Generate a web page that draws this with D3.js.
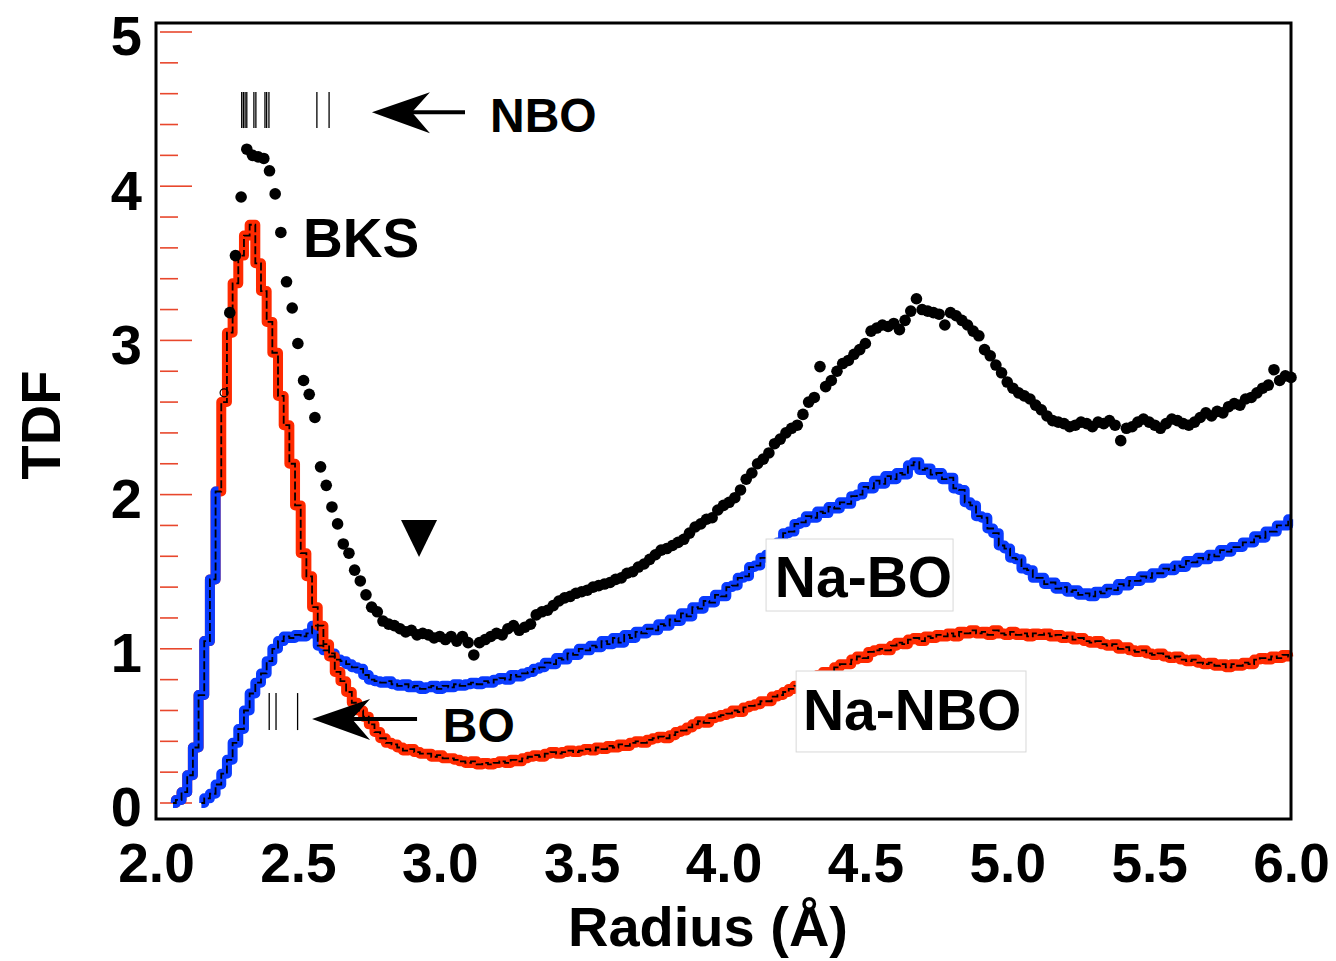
<!DOCTYPE html>
<html>
<head>
<meta charset="utf-8">
<script src="https://cdn.jsdelivr.net/npm/d3@7"></script>
<style>
  body { margin: 0; background: #fff; }
  text { font-family: "Liberation Sans", Arial, Helvetica, sans-serif; font-weight: bold; }
</style>
</head>
<body>
<div id="chart"></div>
<script>
// TDF vs radius (Angstrom), every series sampled on a 0.02 grid
var step = 0.02;

// Na-NBO, starts at 2.06
var naNboStart = 2.06;
var naNbo = [
  0.00, 0.02, 0.07, 0.18, 0.36, 0.70, 1.05, 1.45, 2.02, 2.60,
  3.05, 3.37, 3.55, 3.68, 3.75, 3.50, 3.32, 3.12, 2.92, 2.64,
  2.45, 2.20, 1.93, 1.62, 1.47, 1.27, 1.15, 1.03, 0.95, 0.85,
  0.79, 0.72, 0.65, 0.60, 0.56, 0.51, 0.46, 0.42, 0.39, 0.38,
  0.36, 0.34, 0.35, 0.33, 0.32, 0.32, 0.30, 0.31, 0.29, 0.29,
  0.28, 0.27, 0.26, 0.27, 0.25, 0.26, 0.25, 0.26, 0.27, 0.26,
  0.28, 0.27, 0.29, 0.30, 0.31, 0.30, 0.32, 0.33, 0.32, 0.33,
  0.34, 0.33, 0.34, 0.35, 0.34, 0.36, 0.35, 0.37, 0.36, 0.38,
  0.37, 0.39, 0.40, 0.39, 0.41, 0.42, 0.43, 0.42, 0.44, 0.46,
  0.47, 0.49, 0.51, 0.53, 0.52, 0.55, 0.56, 0.57, 0.58, 0.60,
  0.59, 0.62, 0.63, 0.64, 0.66, 0.66, 0.69, 0.70, 0.72, 0.74,
  0.76, 0.77, 0.79, 0.81, 0.83, 0.85, 0.85, 0.88, 0.90, 0.90,
  0.93, 0.95, 0.94, 0.98, 0.99, 1.00, 0.99, 1.02, 1.04, 1.03,
  1.06, 1.07, 1.05, 1.08, 1.07, 1.09, 1.08, 1.10, 1.08, 1.11,
  1.10, 1.12, 1.10, 1.11, 1.09, 1.12, 1.10, 1.09, 1.11, 1.09,
  1.10, 1.08, 1.10, 1.09, 1.10, 1.08, 1.09, 1.07, 1.08, 1.06,
  1.07, 1.05, 1.04, 1.05, 1.03, 1.02, 1.03, 1.00, 1.01, 0.99,
  0.98, 0.99, 0.97, 0.96, 0.97, 0.95, 0.94, 0.95, 0.93, 0.92,
  0.93, 0.91, 0.90, 0.91, 0.89, 0.90, 0.88, 0.90, 0.89, 0.91,
  0.90, 0.93, 0.94, 0.93, 0.95, 0.94, 0.96, 0.95
];

// Na-BO, starts at 2.16
var naBoStart = 2.16;
var naBo = [
  0.00, 0.03, 0.06, 0.12, 0.19, 0.28, 0.39, 0.48, 0.60, 0.71,
  0.78, 0.84, 0.92, 1.00, 1.05, 1.08, 1.07, 1.09, 1.08, 1.10,
  1.15, 1.02, 0.99, 0.97, 0.93, 0.92, 0.90, 0.88, 0.87, 0.83,
  0.80, 0.79, 0.78, 0.79, 0.77, 0.76, 0.77, 0.75, 0.76, 0.74,
  0.75, 0.76, 0.74, 0.76, 0.75, 0.77, 0.76, 0.77, 0.78, 0.77,
  0.79, 0.78, 0.80, 0.81, 0.80, 0.83, 0.82, 0.84, 0.85, 0.87,
  0.88, 0.91, 0.90, 0.94, 0.93, 0.97, 0.96, 1.00, 0.99, 1.02,
  1.01, 1.05, 1.03, 1.07, 1.04, 1.09, 1.07, 1.11, 1.10, 1.13,
  1.12, 1.16, 1.15, 1.19, 1.18, 1.23, 1.21, 1.27, 1.26, 1.31,
  1.30, 1.35, 1.34, 1.40, 1.41, 1.46, 1.47, 1.53, 1.54, 1.59,
  1.61, 1.67, 1.69, 1.75, 1.76, 1.81, 1.82, 1.86, 1.85, 1.89,
  1.88, 1.92, 1.91, 1.95, 1.94, 1.99, 2.00, 2.05, 2.04, 2.09,
  2.07, 2.12, 2.10, 2.14, 2.13, 2.19, 2.21, 2.16, 2.17, 2.13,
  2.14, 2.10, 2.11, 2.04, 2.03, 1.95, 1.93, 1.86, 1.85, 1.78,
  1.75, 1.67, 1.65, 1.59, 1.58, 1.52, 1.51, 1.46, 1.46, 1.42,
  1.43, 1.39, 1.40, 1.37, 1.38, 1.35, 1.36, 1.34, 1.37, 1.36,
  1.39, 1.38, 1.42, 1.41, 1.44, 1.44, 1.47, 1.46, 1.49, 1.49,
  1.52, 1.51, 1.54, 1.53, 1.57, 1.56, 1.59, 1.58, 1.61, 1.60,
  1.64, 1.63, 1.66, 1.66, 1.69, 1.69, 1.73, 1.72, 1.76, 1.76,
  1.80, 1.80, 1.84
];

// BKS (dots), starts at 2.24
var bksStart = 2.24;
var bks = [
  2.66, 3.18, 3.55, 3.93, 4.24, 4.20, 4.19, 4.18, 4.10, 3.95,
  3.70, 3.38, 3.21, 2.98, 2.74, 2.65, 2.50, 2.18, 2.06, 1.92,
  1.81, 1.68, 1.62, 1.51, 1.44, 1.35, 1.27, 1.24, 1.18, 1.16,
  1.15, 1.13, 1.11, 1.12, 1.09, 1.10, 1.09, 1.07, 1.08, 1.06,
  1.08, 1.05, 1.08, 1.04, 0.96, 1.04, 1.06, 1.08, 1.10, 1.09,
  1.13, 1.15, 1.12, 1.14, 1.16, 1.22, 1.24, 1.25, 1.28, 1.31,
  1.33, 1.34, 1.36, 1.37, 1.38, 1.40, 1.41, 1.42, 1.43, 1.45,
  1.46, 1.49, 1.50, 1.53, 1.55, 1.58, 1.61, 1.64, 1.65, 1.67,
  1.69, 1.71, 1.75, 1.79, 1.81, 1.84, 1.85, 1.90, 1.93, 1.95,
  1.98, 2.03, 2.10, 2.14, 2.20, 2.23, 2.27, 2.33, 2.36, 2.40,
  2.43, 2.45, 2.52, 2.60, 2.63, 2.83, 2.70, 2.74, 2.80, 2.85,
  2.87, 2.91, 2.94, 2.98, 3.06, 3.08, 3.10, 3.09, 3.11, 3.07,
  3.13, 3.19, 3.27, 3.20, 3.19, 3.18, 3.17, 3.10, 3.18, 3.16,
  3.13, 3.10, 3.06, 3.03, 2.94, 2.90, 2.84, 2.79, 2.73, 2.69,
  2.66, 2.64, 2.62, 2.58, 2.55, 2.51, 2.48, 2.47, 2.46, 2.44,
  2.45, 2.47, 2.46, 2.44, 2.47, 2.46, 2.48, 2.45, 2.35, 2.43,
  2.44, 2.47, 2.49, 2.47, 2.45, 2.43, 2.46, 2.49, 2.48, 2.46,
  2.45, 2.47, 2.50, 2.53, 2.51, 2.54, 2.53, 2.57, 2.59, 2.58,
  2.62, 2.63, 2.66, 2.69, 2.71, 2.81, 2.74, 2.77, 2.76
];

// bond-length markers
var nboMarks = [2.302, 2.308, 2.314, 2.320, 2.345, 2.352, 2.384, 2.390, 2.398, 2.567, 2.610];
var boMarks = [2.399, 2.423, 2.499];

var xTicks = [2.0, 2.5, 3.0, 3.5, 4.0, 4.5, 5.0, 5.5, 6.0];
var yTicks = [0, 1, 2, 3, 4, 5];
var yMinor = d3.range(0, 26).map(function(i) { return i / 5; });

var W = 1336, H = 961;
var red = "#ff2a00", blue = "#0a3cff", tickRed = "#e8472c";

var x = d3.scaleLinear().domain([2, 6]).range([156, 1291]);
var y = d3.scaleLinear().domain([0, 5]).range([803, 32]);

function toPoints(start, vals) {
  return vals.map(function(v, i) { return { r: start + i * step, g: v }; });
}
var nboPts = toPoints(naNboStart, naNbo);
var boPts = toPoints(naBoStart, naBo);
var bksPts = toPoints(bksStart, bks);

var svg = d3.select("#chart").append("svg")
  .attr("width", W).attr("height", H);

svg.append("rect").attr("width", W).attr("height", H).attr("fill", "#fff");

// red minor / major ticks inside left edge
svg.append("g").selectAll("line")
  .data(yMinor)
  .enter().append("line")
  .attr("x1", 160)
  .attr("x2", function(d) { return Math.abs(d - Math.round(d)) < 1e-6 ? 192 : 178; })
  .attr("y1", function(d) { return y(d); })
  .attr("y2", function(d) { return y(d); })
  .attr("stroke", tickRed)
  .attr("stroke-width", 1.6);

var line = d3.line()
  .x(function(d) { return x(d.r); })
  .y(function(d) { return y(d.g); })
  .curve(d3.curveStep);

function drawCurve(pts, color) {
  svg.append("path").attr("d", line(pts))
    .attr("fill", "none").attr("stroke", color)
    .attr("stroke-width", 10).attr("stroke-linejoin", "round");
}
function drawDash(pts) {
  svg.append("path").attr("d", line(pts))
    .attr("fill", "none").attr("stroke", "#000")
    .attr("stroke-width", 1.8).attr("stroke-dasharray", "8,3");
}

drawCurve(boPts, blue);
drawCurve(nboPts, red);
drawCurve(nboPts.filter(function(d) { return d.r <= 2.22; }), blue);
drawDash(boPts);
drawDash(nboPts);

// BKS dots
svg.append("g").selectAll("circle")
  .data(bksPts)
  .enter().append("circle")
  .attr("cx", function(d) { return x(d.r); })
  .attr("cy", function(d) { return y(d.g); })
  .attr("r", function(d, i) { return i === 0 ? 4 : 5.8; })
  .attr("fill", function(d, i) { return i === 0 ? "none" : "#000"; })
  .attr("stroke", "#000")
  .attr("stroke-width", function(d, i) { return i === 0 ? 1.2 : 0; });

// frame
svg.append("rect")
  .attr("x", 156).attr("y", 23)
  .attr("width", 1291 - 156).attr("height", 819 - 23)
  .attr("fill", "none").attr("stroke", "#000").attr("stroke-width", 3);

// axes (labels only)
var yAxis = svg.append("g").attr("transform", "translate(156,0)")
  .call(d3.axisLeft(y).tickValues(yTicks).tickSize(0).tickPadding(14).tickFormat(d3.format("d")));
yAxis.select(".domain").remove();
yAxis.selectAll("text").attr("font-size", 56).attr("dy", "0.41em")
  .attr("fill", "#000").style("font-family", "'Liberation Sans', Arial, sans-serif").style("font-weight", "bold");

var xAxis = svg.append("g").attr("transform", "translate(0,819)")
  .call(d3.axisBottom(x).tickValues(xTicks).tickSize(0).tickPadding(24).tickFormat(d3.format(".1f")));
xAxis.select(".domain").remove();
xAxis.selectAll("text").attr("font-size", 55)
  .attr("fill", "#000").style("font-family", "'Liberation Sans', Arial, sans-serif").style("font-weight", "bold");

svg.append("text")
  .attr("x", 708).attr("y", 946)
  .attr("text-anchor", "middle").attr("font-size", 56)
  .text("Radius (Å)");

svg.append("text")
  .attr("transform", "translate(60,425) rotate(-90)")
  .attr("text-anchor", "middle").attr("font-size", 56)
  .text("TDF");

// marker bars
function marks(vals, g0, g1) {
  svg.append("g").selectAll("line")
    .data(vals)
    .enter().append("line")
    .attr("x1", function(d) { return x(d); })
    .attr("x2", function(d) { return x(d); })
    .attr("y1", y(g0)).attr("y2", y(g1))
    .attr("stroke", "#000").attr("stroke-width", 1.3);
}
marks(nboMarks, 4.611, 4.377);
marks(boMarks, 0.713, 0.473);

// arrows
function arrow(r0, r1, g) {
  var tx = x(r0), ty = y(g), ex = x(r1);
  svg.append("line")
    .attr("x1", tx + 38).attr("x2", ex)
    .attr("y1", ty).attr("y2", ty)
    .attr("stroke", "#000").attr("stroke-width", 4);
  svg.append("path")
    .attr("d", "M" + tx + "," + ty + "L" + (tx + 58) + "," + (ty - 20) +
      "L" + (tx + 40) + "," + ty + "L" + (tx + 58) + "," + (ty + 21) + "Z")
    .attr("fill", "#000");
}
arrow(2.761, 3.089, 4.48);
arrow(2.550, 2.920, 0.545);

// downward triangle marker
var tr = 2.927;
svg.append("path")
  .attr("d", "M" + (x(tr) - 18) + "," + y(1.835) + "L" + (x(tr) + 18) + "," + y(1.835) +
    "L" + x(tr) + "," + y(1.595) + "Z")
  .attr("fill", "#000");

// labels
function label(txt, r, g, size) {
  svg.append("text").attr("x", x(r)).attr("y", y(g))
    .attr("font-size", size).attr("fill", "#000").text(txt);
}
function boxed(txt, r, g, size, b) {
  svg.append("rect")
    .attr("x", x(b[0])).attr("y", y(b[1]))
    .attr("width", x(b[2]) - x(b[0])).attr("height", y(b[3]) - y(b[1]))
    .attr("fill", "#fff").attr("stroke", "#d8d8d8").attr("stroke-width", 1);
  label(txt, r, g, size);
}
label("NBO", 3.177, 4.35, 48);
label("BKS", 2.518, 3.54, 55);
label("BO", 3.011, 0.396, 48);
boxed("Na-BO", 4.181, 1.336, 57, [4.150, 1.712, 4.809, 1.245]);
boxed("Na-NBO", 4.280, 0.473, 57, [4.256, 0.856, 5.066, 0.331]);
</script>
</body>
</html>
